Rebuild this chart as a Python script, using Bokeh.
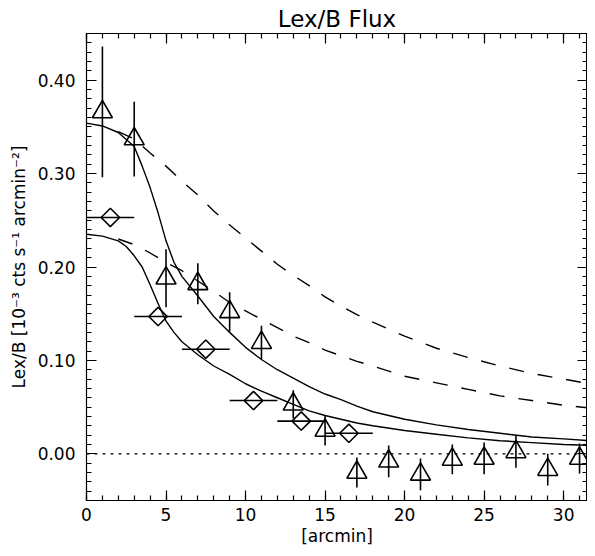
import numpy as np
from bokeh.plotting import figure
from bokeh.models import LinearAxis, SingleIntervalTicker, PrintfTickFormatter, Range1d, Span
from bokeh.embed import file_html
from bokeh.resources import INLINE

# ---- data ----
# triangles with vertical error bars
tri_x = [1, 3, 5, 7, 9, 11, 13, 15, 17, 19, 21, 23, 25, 27, 29, 31]
tri_y = [0.366, 0.337, 0.188, 0.182, 0.152, 0.119, 0.053, 0.025,
         -0.020, -0.008, -0.022, -0.006, -0.005, 0.002, -0.017, -0.005]
tri_err = [0.070, 0.040, 0.031, 0.022, 0.021, 0.018, 0.015, 0.016,
           0.016, 0.017, 0.017, 0.016, 0.017, 0.017, 0.017, 0.016]

# diamonds with horizontal error bars
dia_x = [1.5, 4.5, 7.5, 10.5, 13.5, 16.5]
dia_y = [0.253, 0.147, 0.112, 0.057, 0.035, 0.022]
dia_xerr = [1.5, 1.5, 1.5, 1.5, 1.5, 1.5]

# model curves (solid)
s1_x = [0, 1, 2, 3, 3.5, 4, 4.5, 5, 5.5, 6, 7, 8, 9, 10, 11, 12, 13, 14, 15, 16, 17, 18, 20, 22, 24, 26, 28, 30, 31.6]
s1_y = [0.354, 0.351, 0.344, 0.329, 0.308, 0.285, 0.258, 0.228, 0.205, 0.190, 0.169, 0.147, 0.130, 0.114,
        0.101, 0.090, 0.081, 0.072, 0.064, 0.058, 0.051, 0.045, 0.037, 0.031, 0.026, 0.022, 0.018, 0.016, 0.014]
s2_x = [0, 1, 2, 2.5, 3, 3.5, 4, 4.5, 5, 5.5, 6, 7, 8, 9, 10, 11, 12, 13, 14, 15, 16, 17, 18, 20, 22, 24, 26, 28, 30, 31.6]
s2_y = [0.235, 0.233, 0.228, 0.222, 0.212, 0.200, 0.181, 0.161, 0.142, 0.130, 0.120, 0.106, 0.094, 0.085,
        0.075, 0.067, 0.060, 0.053, 0.046, 0.041, 0.037, 0.033, 0.030, 0.025, 0.021, 0.017, 0.014, 0.012,
        0.010, 0.009]

# model curves (dashed)
d1_x = [2, 3, 4, 5, 6, 7, 8, 9, 10, 11, 12, 13, 14, 15, 16, 17, 18, 20, 22, 24, 26, 28, 30, 31.6]
d1_y = [0.345, 0.337, 0.322, 0.308, 0.292, 0.277, 0.260, 0.245, 0.231, 0.217, 0.203, 0.191, 0.180, 0.168,
        0.158, 0.149, 0.141, 0.126, 0.113, 0.103, 0.094, 0.086, 0.080, 0.075]
d2_x = [2, 3, 4, 5, 6, 7, 8, 9, 10, 11, 12, 13, 14, 15, 16, 17, 18, 20, 22, 24, 26, 28, 30, 31.6]
d2_y = [0.230, 0.224, 0.215, 0.205, 0.196, 0.185, 0.174, 0.162, 0.153, 0.144, 0.135, 0.126, 0.119, 0.111,
        0.105, 0.099, 0.094, 0.083, 0.076, 0.069, 0.062, 0.057, 0.052, 0.049]

zero_level = 0.0

FONT = "DejaVu Sans"

p = figure(width=587, height=548, output_backend="svg", toolbar_location=None,
           x_range=Range1d(0, 31.5), y_range=Range1d(-0.05, 0.45),
           min_border_left=86, min_border_right=0, min_border_top=33, min_border_bottom=46,
           title="Lex/B Flux", x_axis_label="[arcmin]",
           y_axis_label="Lex/B [10\u207b\u00b3 cts s\u207b\u00b9 arcmin\u207b\u00b2]")
p.grid.visible = False
p.outline_line_color = "black"
p.outline_line_width = 1
p.background_fill_color = "white"
p.border_fill_color = "white"

p.title.align = "center"
p.title.text_font = FONT
p.title.text_font_size = "23px"
p.title.text_font_style = "normal"
p.title.text_color = "black"
p.title.standoff = 4

xt = dict(interval=5, num_minor_ticks=5)
yt = dict(interval=0.1, num_minor_ticks=10)


def style(ax, ticker_kw, fmt, show_labels):
    ax.ticker = SingleIntervalTicker(**ticker_kw)
    ax.formatter = PrintfTickFormatter(format=fmt)
    ax.major_tick_in = 10
    ax.major_tick_out = 0
    ax.minor_tick_in = 5
    ax.minor_tick_out = 0
    ax.axis_line_color = "black"
    ax.axis_line_width = 1.2
    ax.major_tick_line_color = "black"
    ax.minor_tick_line_color = "black"
    ax.major_tick_line_width = 1.2
    ax.minor_tick_line_width = 1.2
    if show_labels:
        ax.major_label_text_font = FONT
        ax.major_label_text_font_size = "17px"
        ax.major_label_text_color = "black"
        ax.axis_label_text_font = FONT
        ax.axis_label_text_font_style = "normal"
        ax.axis_label_text_color = "black"
    else:
        ax.major_label_text_font_size = "0px"
        ax.major_label_text_color = None
        ax.major_label_standoff = 0
        ax.axis_label = None


xa = p.xaxis[0]
ya = p.yaxis[0]
style(xa, xt, "%d", True)
style(ya, yt, "%.2f", True)
xa.major_label_standoff = 7
xa.axis_label_text_font_size = "17px"
xa.axis_label_standoff = 2
ya.major_label_standoff = 11
ya.axis_label_text_font_size = "17px"
ya.axis_label_standoff = 6

top = LinearAxis()
style(top, xt, "%d", False)
p.add_layout(top, "above")
right = LinearAxis()
style(right, yt, "%.2f", False)
p.add_layout(right, "right")

# zero line
p.add_layout(Span(location=zero_level, dimension="width", line_color="black",
                  line_width=1.2, line_dash="3 5"))

# model curves
p.line(s1_x, s1_y, line_color="black", line_width=1.4)
p.line(s2_x, s2_y, line_color="black", line_width=1.4)
p.line(d1_x, d1_y, line_color="black", line_width=1.4, line_dash="15 14")
p.line(d2_x, d2_y, line_color="black", line_width=1.4, line_dash="15 14")

# triangles with vertical error bars
ty = np.array(tri_y)
te = np.array(tri_err)
p.segment(x0=tri_x, y0=ty - te, x1=tri_x, y1=ty + te, line_color="black", line_width=1.6)
p.scatter(tri_x, tri_y, marker="triangle", size=20, fill_color=None,
          line_color="black", line_width=1.6)

# diamonds with horizontal error bars
dx = np.array(dia_x)
de = np.array(dia_xerr)
p.segment(x0=dx - de, y0=dia_y, x1=dx + de, y1=dia_y, line_color="black", line_width=1.6)
p.scatter(dia_x, dia_y, marker="square", angle=np.pi / 4, size=13, fill_color=None,
          line_color="black", line_width=1.6)

open("out.html", "w").write(file_html(p, INLINE))
